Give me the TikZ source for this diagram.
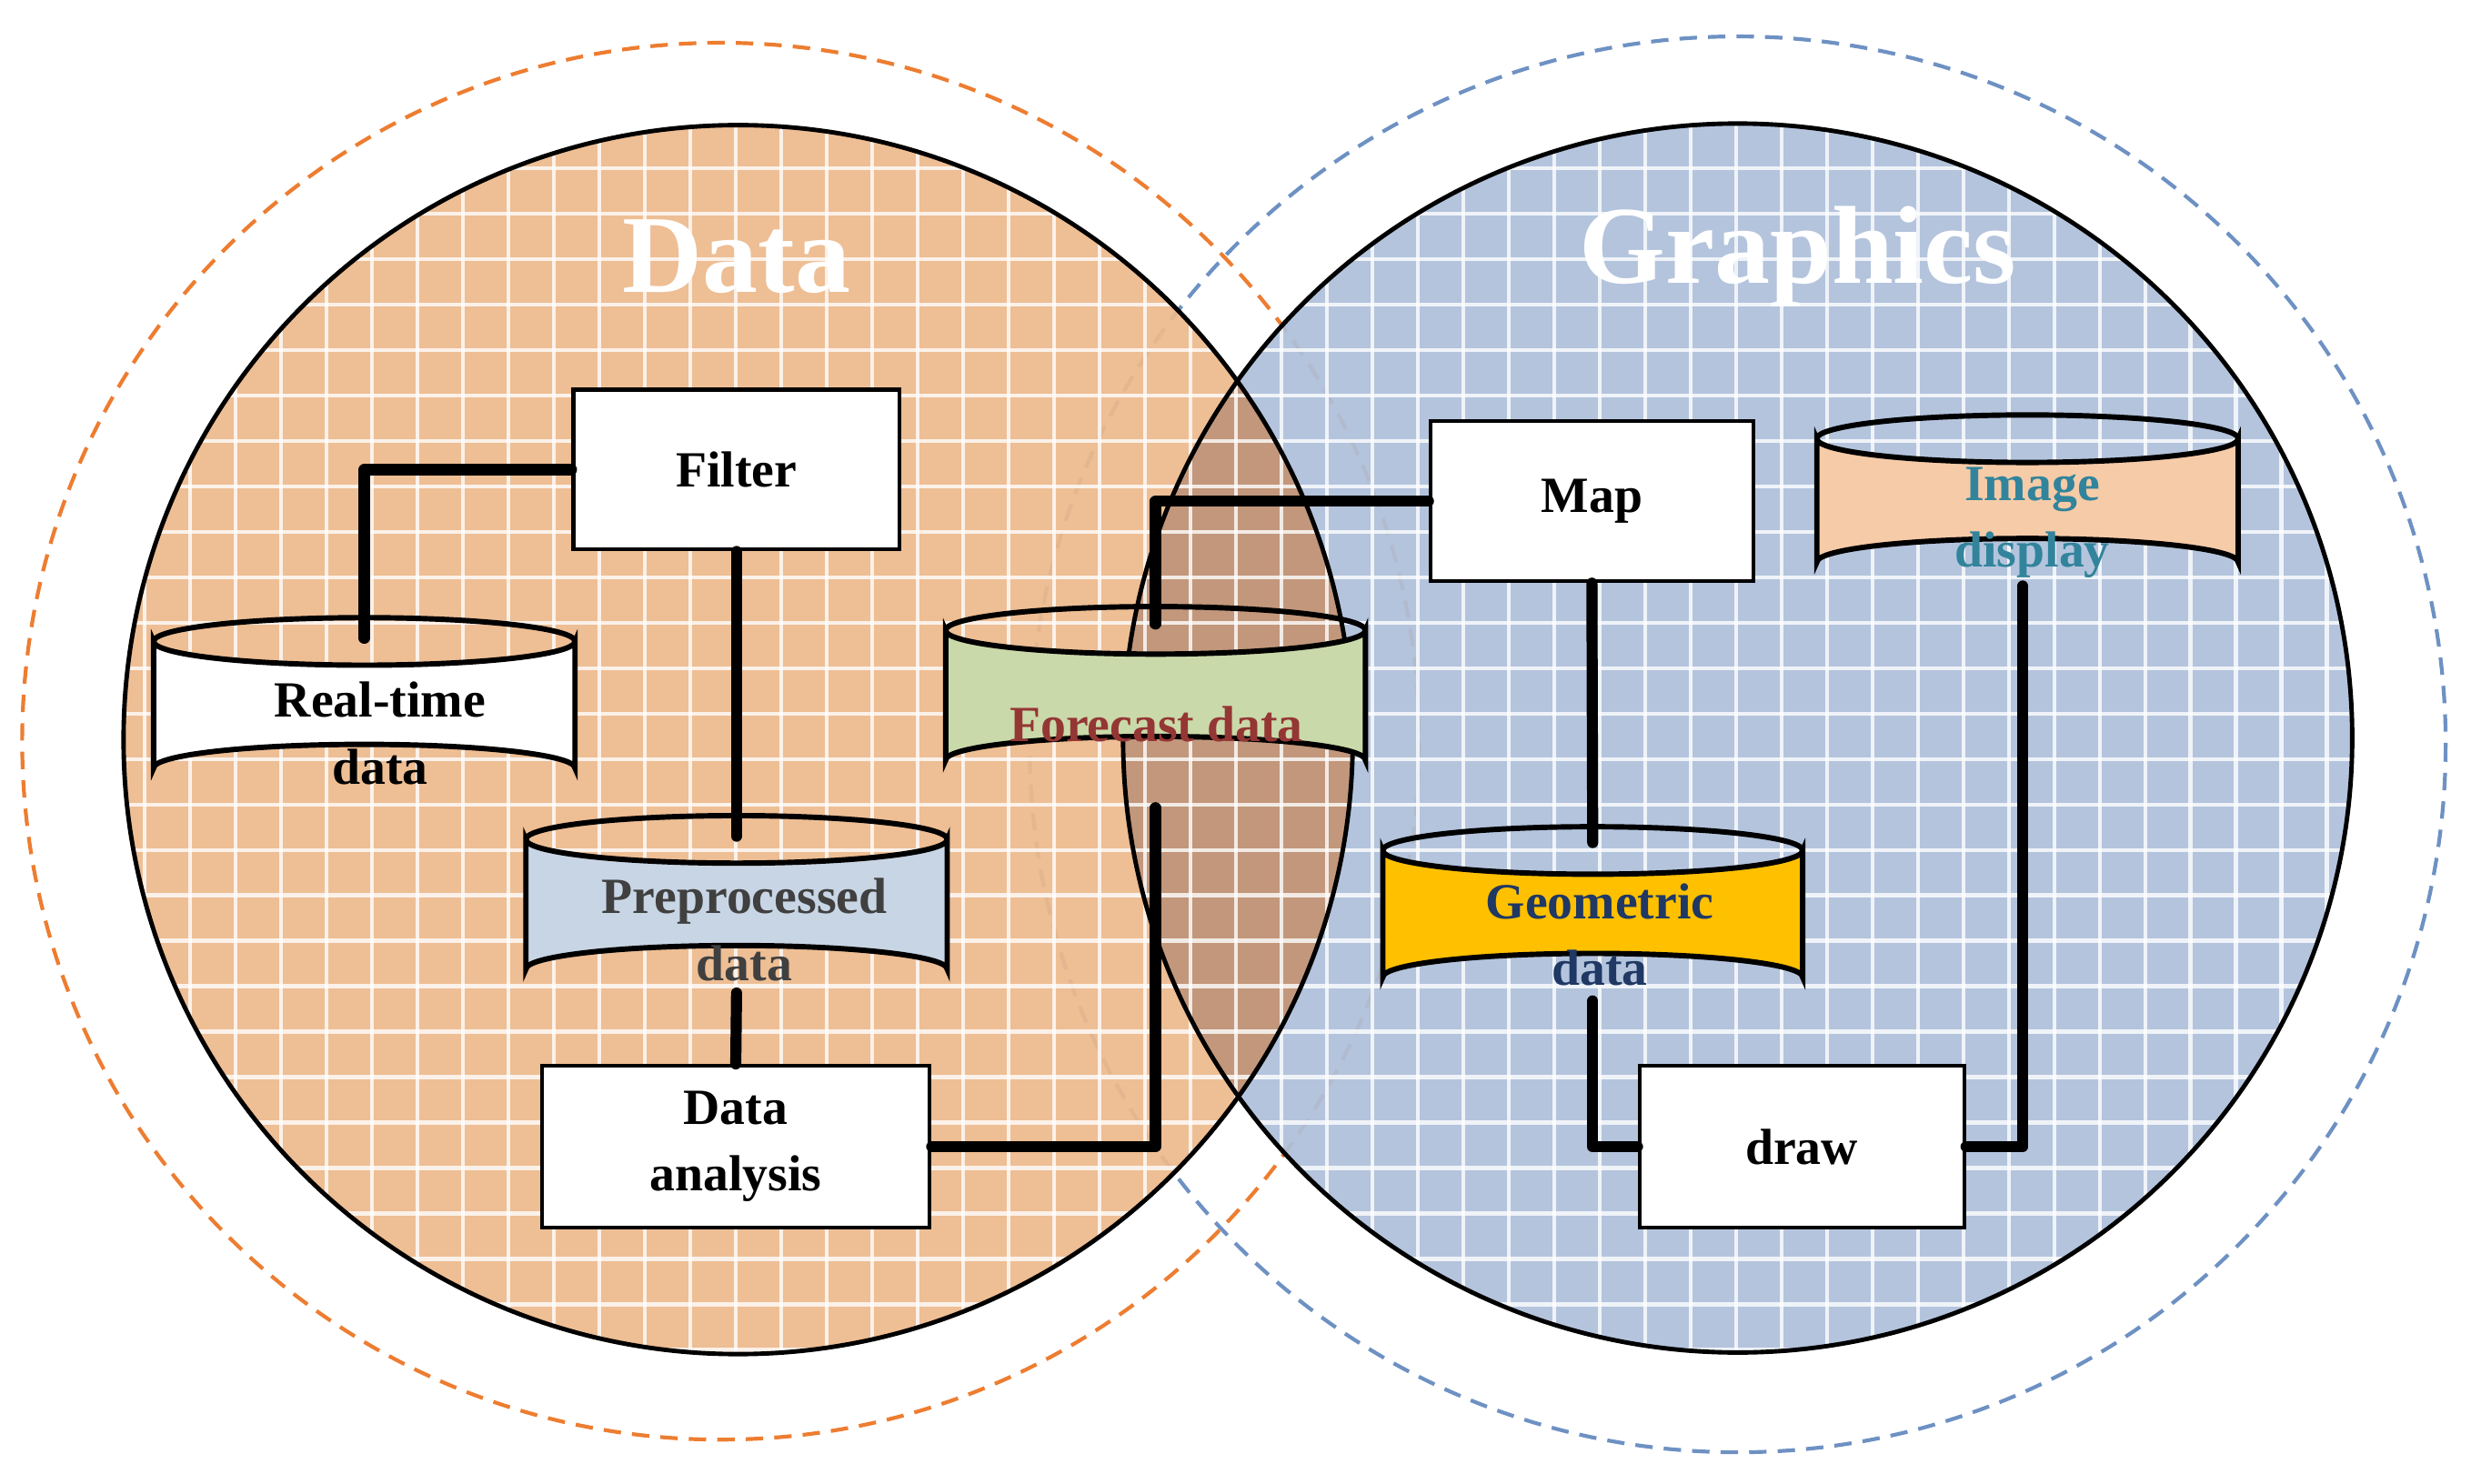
\documentclass[tikz,border=0pt]{standalone}
\usepackage{fontspec}
\setmainfont{Liberation Serif}
\begin{document}
\begin{tikzpicture}[x=1pt,y=-1pt,
  conn/.style={line width=7pt,line cap=round,line join=round},
  box/.style={draw,line width=2.4pt,fill=white},
  lbl/.style={font=\fontsize{32}{42}\selectfont\bfseries,align=center},
  ttl/.style={font=\fontsize{70}{70}\selectfont\bfseries,text=white}]
\useasboundingbox (0,0) rectangle (1560,937);
\definecolor{orf}{HTML}{EDB98C}
\definecolor{blf}{HTML}{AEC0DA}
\definecolor{ovf}{RGB}{192,150,122}
\definecolor{odash}{RGB}{237,125,49}
\definecolor{bdash}{RGB}{110,145,195}
\definecolor{imgf}{HTML}{F6CBA8}
\definecolor{fcf}{RGB}{202,217,169}
\definecolor{ppf}{RGB}{200,213,228}
\definecolor{geof}{RGB}{255,192,0}
\definecolor{imgt}{RGB}{49,132,155}
\definecolor{fct}{RGB}{148,54,52}
\definecolor{ppt}{RGB}{64,64,64}
\definecolor{geot}{RGB}{31,56,100}
% outer dashed circles
\draw[dash pattern=on 11pt off 7pt,line width=2.4pt,odash] (455,468) circle (441);
\draw[dash pattern=on 11pt off 7pt,line width=2.4pt,bdash] (1097,470) circle (447);
% fills
\fill[blf,fill opacity=0.93] (1097,466) circle (388);
\fill[orf,fill opacity=0.93] (466,467) circle (388);
\begin{scope}
\clip (1097,466) circle (388);
\fill[ovf,fill opacity=0.95] (466,467) circle (388);
\end{scope}
\begin{scope}
\clip (466,467) circle (388) (1097,466) circle (388);
\foreach \i in {0,...,60}{
 \draw[white,opacity=0.8,line width=2.4pt] (34+\i*28.7,0) -- (34+\i*28.7,937);
 \draw[white,opacity=0.8,line width=2.4pt] (0,20+\i*28.7) -- (1560,20+\i*28.7);}
\end{scope}
\draw[line width=2.8pt] (466,467) circle (388) (1097,466) circle (388);
\node[ttl] (tdata) at (465,162) {Data};
\node[ttl] (tgraph) at (1135,162) {Graphics};
% boxes
\node[box,minimum width=206,minimum height=101,lbl] (filter) at (465,296.5) {Filter};
\node[box,minimum width=204,minimum height=101,lbl] (map) at (1005,316.5) {Map};
\node[box,minimum width=245,minimum height=102,lbl] (analysis) at (464.5,724) {Data\\analysis};
\node[box,minimum width=205,minimum height=102,lbl] (drawb) at (1137.5,724) {draw};
% cylinders
\newcommand{\cyl}[6]{% name, x1,x2,ytop,ybot, fill
 \path[fill=#6,draw,line width=3.4pt] (#2,#4) -- (#2,#5) arc[start angle=180,end angle=360,x radius={(#3-#2)/2},y radius=15] -- (#3,#4) arc[start angle=0,end angle=180,x radius={(#3-#2)/2},y radius=15] -- cycle;
 \draw[line width=3.4pt] (#2,#4) arc[start angle=180,end angle=360,x radius={(#3-#2)/2},y radius=15];
 \coordinate (#1-top) at ({(#2+#3)/2},#4);
 \coordinate (#1-bot) at ({(#2+#3)/2},#5+15);}
\cyl{rt}{97}{363}{405}{485}{white}
\cyl{img}{1147}{1413}{277}{355}{imgf}
\cyl{fc}{597}{862}{398}{480}{fcf}
\cyl{pp}{332}{598}{530}{612}{ppf}
\cyl{geo}{873}{1138}{537}{617}{geof}
\node[lbl] (rtl) at (240,463) {Real-time\\data};
\node[lbl,text=imgt] (imgl) at (1283,330) {Image\\display};
\node[lbl,text=fct] (fcl) at (730,457) {Forecast data};
\node[lbl,text=ppt] (ppl) at (470,587) {Preprocessed\\data};
\node[lbl,text=geot] (geol) at (1010,590) {Geometric\\data};
% connectors
\draw[conn] (filter.west) -| ([yshift=2]rt-top);
\draw[conn] (filter.south) -- ([yshift=2]pp-top);
\draw[conn] (pp-bot) -- (analysis.north);
\draw[conn] (analysis.east) -| ([yshift=-15]fc-bot);
\draw[conn] ([yshift=4]fc-top) |- (map.west);
\draw[conn] (map.south) -- ([yshift=5]geo-top);
\draw[conn] (geo-bot) |- (drawb.west);
\draw[conn] (drawb.east) -| ([xshift=-3]img-bot);
\end{tikzpicture}
\end{document}
